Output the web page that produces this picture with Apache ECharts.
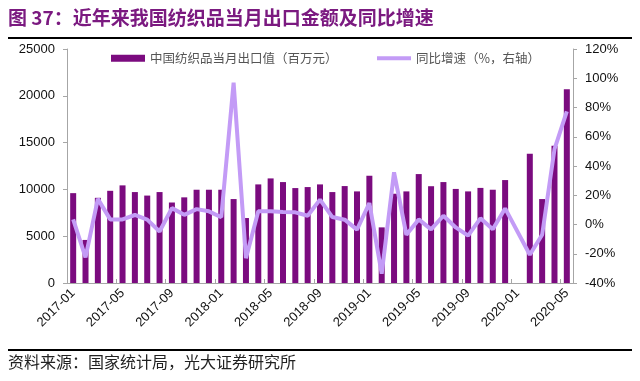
<!DOCTYPE html>
<html>
<head>
<meta charset="utf-8">
<script src="https://cdn.jsdelivr.net/npm/echarts@6/dist/echarts.min.js"></script>
<style>
html,body{margin:0;padding:0;background:#fff;}
#chart{width:640px;height:381px;}
</style>
</head>
<body>
<div id="chart"></div>
<script>
const categories = [
  '2017-01','2017-02','2017-03','2017-04','2017-05','2017-06','2017-07','2017-08','2017-09','2017-10','2017-11','2017-12',
  '2018-01','2018-02','2018-03','2018-04','2018-05','2018-06','2018-07','2018-08','2018-09','2018-10','2018-11','2018-12',
  '2019-01','2019-02','2019-03','2019-04','2019-05','2019-06','2019-07','2019-08','2019-09','2019-10','2019-11','2019-12',
  '2020-01','2020-02','2020-03','2020-04','2020-05'
];
const exportValue = [
  9600,4600,9100,9850,10430,9715,9340,9715,8600,9150,9964,9964,
  9964,8968,6940,10534,11174,10783,10142,10249,10534,9715,10356,9786,
  11459,5943,9537,9786,11637,10340,10783,10050,9786,10160,9964,10997,
  null,13808,8968,14662,20712
];
const yoyGrowth = [
  3.5,-22.5,17.5,3.5,3.5,6.5,3.3,-4.8,11.2,6.6,10.5,9.0,
  5.0,97.0,-23.0,9.0,9.0,8.5,8.3,6.0,17.0,5.1,3.3,-3.5,
  14.7,-33.6,35.7,-7.0,3.5,-3.3,6.0,-2.0,-7.6,4.2,-3.3,11.0,
  null,-20.7,-7.0,51.5,77.4
];
const leftTicks = {min:0, max:25000, interval:5000};
const rightTicks = {min:-40, max:120, interval:20};
const titleText = '图 37：近年来我国纺织品当月出口金额及同比增速';
const sourceText = '资料来源：国家统计局，光大证券研究所';
const barName = '中国纺织品当月出口值（百万元）';
const lineName = '同比增速（%，右轴）';

const BAR = '#7B0B7F';
const LINE = '#C39BF6';
const AXIS = '#A6A6A6';
const FONT = '"Liberation Sans", Arial, "Noto Sans CJK SC", sans-serif';
const CJK = '"Noto Sans CJK SC", sans-serif';

const chart = echarts.init(document.getElementById('chart'), null, {renderer:'canvas'});
chart.setOption({
  animation:false,
  backgroundColor:'#fff',
  graphic:[
    {type:'text', left:8, top:8, style:{text:titleText, fill:'#7B1A80', font:'bold 19px ' + CJK}},
    {type:'rect', shape:{x:8, y:37, width:624, height:2}, style:{fill:'#000'}},
    {type:'rect', shape:{x:8, y:349, width:624, height:2}, style:{fill:'#000'}},
    {type:'text', left:8, top:354, style:{text:sourceText, fill:'#222', font:'16px ' + CJK}}
  ],
  legend:[
    {data:[{name:barName, icon:'rect'}], left:106, top:47, itemWidth:34, itemHeight:7,
     textStyle:{color:'#555', fontSize:12.5, fontFamily:CJK}},
    {data:[{name:lineName, icon:'rect'}], left:372, top:47, itemWidth:34, itemHeight:4,
     textStyle:{color:'#555', fontSize:12.5, fontFamily:CJK}}
  ],
  grid:{left:67, right:67, top:49, bottom:98, containLabel:false},
  xAxis:{
    type:'category', data:categories, boundaryGap:true,
    axisLine:{lineStyle:{color:AXIS}},
    axisTick:{show:true, inside:true, interval:3, length:4, lineStyle:{color:AXIS}},
    axisLabel:{interval:3, rotate:45, color:'#111', fontSize:13, fontFamily:FONT, margin:8}
  },
  yAxis:[
    {type:'value', min:leftTicks.min, max:leftTicks.max, interval:leftTicks.interval,
     splitLine:{show:false},
     axisLine:{show:true, lineStyle:{color:AXIS}},
     axisTick:{show:true, length:4, lineStyle:{color:AXIS}},
     axisLabel:{color:'#111', fontSize:13, fontFamily:FONT, margin:12, formatter:function(v){return String(v);}}},
    {type:'value', min:rightTicks.min, max:rightTicks.max, interval:rightTicks.interval,
     splitLine:{show:false},
     axisLine:{show:true, lineStyle:{color:AXIS}},
     axisTick:{show:true, length:4, lineStyle:{color:AXIS}},
     axisLabel:{color:'#111', fontSize:13, fontFamily:FONT, margin:12, formatter:'{value}%'}}
  ],
  series:[
    {name:barName, type:'bar', data:exportValue, yAxisIndex:0, barWidth:6,
     itemStyle:{color:BAR}},
    {name:lineName, type:'line', data:yoyGrowth, yAxisIndex:1, connectNulls:true,
     symbol:'none', lineStyle:{color:LINE, width:4}, itemStyle:{color:LINE}}
  ]
});
</script>
</body>
</html>
